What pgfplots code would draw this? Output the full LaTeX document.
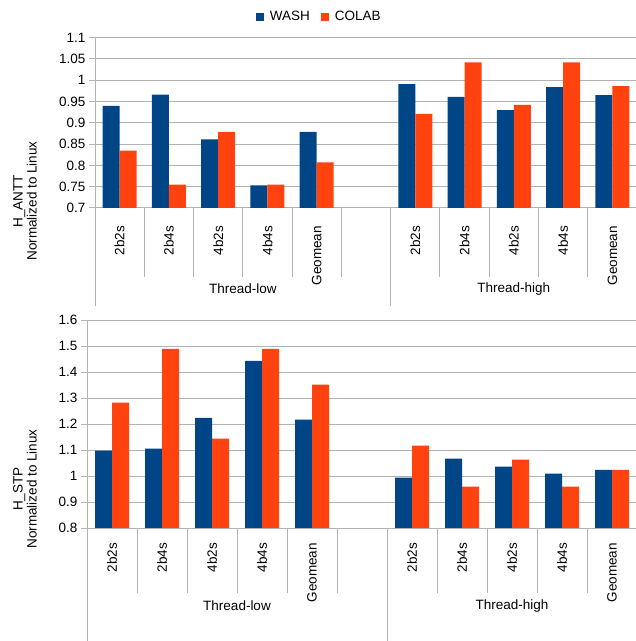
\documentclass[border=0pt]{standalone}
\usepackage{pgfplots}
\pgfplotsset{compat=1.18}
\usepackage{fontspec}
\setmainfont{Liberation Sans}
\definecolor{washblue}{HTML}{004586}
\definecolor{colaborange}{HTML}{FF420E}
\definecolor{gridgray}{HTML}{B3B3B3}
\pgfplotsset{
  chartbase/.style={
    scale only axis,
    anchor=south west,
    font=\fontsize{13.5bp}{16bp}\selectfont,
    xmin=-0.5, xmax=10.5,
    ybar=0pt, bar width=17bp,
    axis x line*=bottom, axis y line*=left,
    axis line style={gridgray, line width=1bp},
    ymajorgrids, grid style={gridgray, line width=1bp},
    tick align=outside, major tick length=6bp,
    ytick style={gridgray, line width=1bp},
    xtick style={draw=none},
    xtick={0,1,2,3,4,6,7,8,9,10},
    xticklabels={2b2s,2b4s,4b2s,4b4s,Geomean,2b2s,2b4s,4b2s,4b4s,Geomean},
    xticklabel style={rotate=90, anchor=east, inner sep=0pt},
    /pgf/number format/assume math mode=true,
    clip mode=individual,
    legend image code/.code={\path[#1,draw=none] (0bp,-4.25bp) rectangle (8.5bp,4.25bp);},
  },
}
\begin{document}
\begin{tikzpicture}
% ---------------- top panel ----------------
\begin{axis}[chartbase,
  at={(95bp,433bp)}, width=542bp, height=170.3bp,
  ymin=0.7, ymax=1.1,
  ytick={0.7,0.75,0.8,0.85,0.9,0.95,1,1.05,1.1},
  yticklabels={0.7,0.75,0.8,0.85,0.9,0.95,1,1.05,1.1},
  xticklabel shift=12bp,
  ylabel={H\_ANTT\\Normalized to Linux},
  every axis y label/.style={at={(axis description cs:-0.129,0.041)}, rotate=90, anchor=center, align=center, font=\fontsize{13.5bp}{14bp}\selectfont},
  legend columns=2,
  legend style={at={(axis description cs:0.412,1.1215)}, anchor=center, draw=none, fill=none, inner sep=0pt, column sep=5.5bp,
    nodes={inner sep=0pt}, /tikz/every even column/.append style={column sep=11bp}},
]
\addplot[fill=washblue, draw=none] coordinates {(0,0.940) (1,0.966) (2,0.861) (3,0.753) (4,0.879) (6,0.991) (7,0.961) (8,0.930) (9,0.984) (10,0.965)};
\addplot[fill=colaborange, draw=none] coordinates {(0,0.835) (1,0.755) (2,0.879) (3,0.755) (4,0.807) (6,0.921) (7,1.042) (8,0.942) (9,1.042) (10,0.986)};
\legend{WASH,COLAB}
\pgfplotsinvokeforeach{0.5,1.5,2.5,3.5,4.5,6.5,7.5,8.5,9.5}{
  \draw[gridgray, line width=1bp] (axis cs:#1,0.7) -- ++(0bp,-68.7bp);
}
\draw[gridgray, line width=1bp] (axis cs:-0.5,0.7) -- ++(0bp,-97.7bp);
\draw[gridgray, line width=1bp] (axis cs:5.5,0.7) -- ++(0bp,-97.7bp);
\node[anchor=center, inner sep=0pt] at (axis cs:2.5,0.7) [yshift=-81bp] {Thread-low};
\node[anchor=center, inner sep=0pt] at (axis cs:8,0.7) [yshift=-81bp] {Thread-high};
\end{axis}
% ---------------- bottom panel ----------------
\begin{axis}[chartbase,
  at={(87bp,113bp)}, width=550bp, height=208bp,
  ymin=0.8, ymax=1.6,
  ytick={0.8,0.9,1,1.1,1.2,1.3,1.4,1.5,1.6},
  yticklabels={0.8,0.9,1,1.1,1.2,1.3,1.4,1.5,1.6},
  xticklabel shift=9bp,
  ylabel={H\_STP\\Normalized to Linux},
  every axis y label/.style={at={(axis description cs:-0.1127,0.1875)}, rotate=90, anchor=center, align=center, font=\fontsize{13.5bp}{14bp}\selectfont},
]
\addplot[fill=washblue, draw=none] coordinates {(0,1.098) (1,1.105) (2,1.224) (3,1.443) (4,1.217) (6,0.994) (7,1.067) (8,1.036) (9,1.009) (10,1.024)};
\addplot[fill=colaborange, draw=none] coordinates {(0,1.282) (1,1.489) (2,1.144) (3,1.489) (4,1.351) (6,1.117) (7,0.959) (8,1.063) (9,0.959) (10,1.024)};
\pgfplotsinvokeforeach{0.5,1.5,2.5,3.5,4.5,6.5,7.5,8.5,9.5}{
  \draw[gridgray, line width=1bp] (axis cs:#1,0.8) -- ++(0bp,-65bp);
}
\draw[gridgray, line width=1bp] (axis cs:-0.5,0.8) -- ++(0bp,-113bp);
\draw[gridgray, line width=1bp] (axis cs:5.5,0.8) -- ++(0bp,-113bp);
\node[anchor=center, inner sep=0pt] at (axis cs:2.5,0.8) [yshift=-78bp] {Thread-low};
\node[anchor=center, inner sep=0pt] at (axis cs:8,0.8) [yshift=-78bp] {Thread-high};
\end{axis}
\pgfresetboundingbox
\path[use as bounding box] (0bp,0bp) rectangle (636bp,641bp);
\end{tikzpicture}
\end{document}
